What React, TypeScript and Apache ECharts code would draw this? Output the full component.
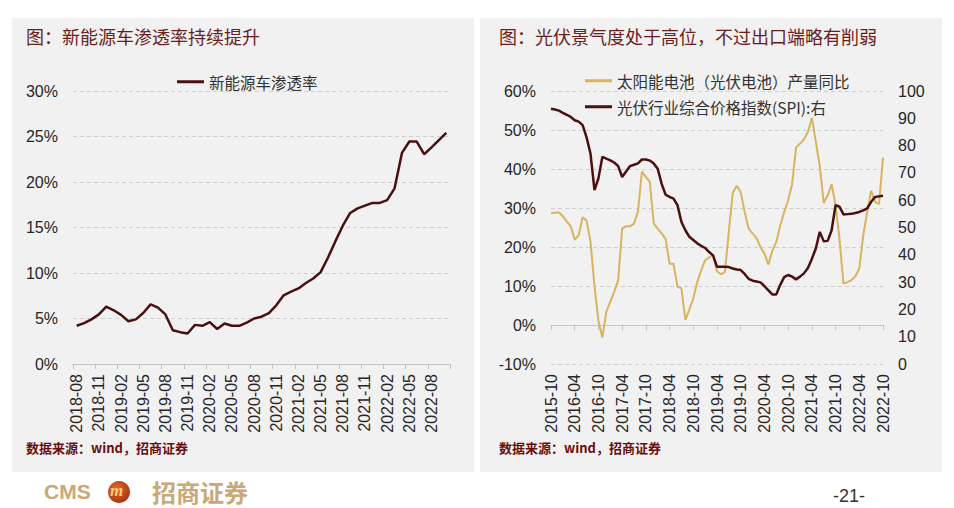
import React, { useEffect, useRef } from "react";
import * as echarts from "echarts";

// ---------- data ----------
function monthRange(year: number, month: number, count: number): string[] {
  const out: string[] = [];
  let y = year;
  let m = month;
  for (let i = 0; i < count; i++) {
    out.push(`${y}-${m < 10 ? "0" + m : m}`);
    m++;
    if (m > 12) {
      m = 1;
      y++;
    }
  }
  return out;
}

const nevMonths = monthRange(2018, 8, 51); // 2018-08 .. 2022-10
const nevPenetration = [
  4.2, 4.5, 4.9, 5.45, 6.3, 5.9, 5.4, 4.7, 4.9, 5.6,
  6.55, 6.2, 5.45, 3.7, 3.5, 3.35, 4.3, 4.2, 4.6, 3.85,
  4.45, 4.2, 4.2, 4.55, 5.0, 5.2, 5.6, 6.45, 7.55, 7.95,
  8.3, 8.9, 9.4, 10.1, 11.7, 13.5, 15.2, 16.6, 17.1, 17.4,
  17.7, 17.7, 18.0, 19.3, 23.2, 24.45, 24.45, 23.05, 23.8, 24.6, 25.4,
];

const pvMonths = monthRange(2015, 10, 85); // 2015-10 .. 2022-10
const solarCellYoY = [
  28.7, 28.8, 28.9, 27.9, 26.5, 25.3, 21.9, 23.0, 27.6, 26.8,
  21.3, 10.0, 1.0, -3.2, 3.4, 6.0, 8.5, 11.5, 24.7, 25.3,
  25.3, 26.0, 29.0, 39.3, 38.0, 36.7, 26.0, 24.7, 23.5, 22.1,
  15.7, 15.7, 9.8, 9.4, 1.3, 4.0, 6.8, 11.0, 14.0, 16.6,
  17.3, 18.0, 13.8, 13.0, 13.6, 24.0, 34.0, 35.7, 34.0, 29.0,
  24.7, 23.5, 22.3, 20.0, 18.3, 15.5, 19.0, 21.3, 25.5, 29.0,
  32.0, 36.1, 45.5, 46.5, 47.6, 49.5, 53.1, 47.0, 40.8, 31.3,
  33.2, 36.1, 30.6, 22.0, 10.6, 11.0, 11.5, 12.5, 14.5, 23.0,
  29.0, 34.4, 31.5, 31.0, 42.9,
];
const spiIndex = [
  93.5, 93.2, 92.8, 92.0, 91.3, 90.5, 89.3, 88.8, 87.5, 83.0,
  77.0, 63.7, 68.0, 75.9, 75.2, 74.6, 73.8, 72.5, 68.5, 70.5,
  72.5, 73.0, 73.5, 74.9, 74.9, 74.5, 73.4, 71.5, 66.0, 62.0,
  61.2, 60.6, 58.2, 52.0, 49.0, 46.6, 45.4, 44.2, 43.3, 42.5,
  41.0, 39.8, 35.6, 35.6, 35.6, 35.5, 35.0, 34.6, 34.4, 33.0,
  31.2, 30.5, 30.2, 29.9, 28.5, 27.0, 25.5, 25.5, 29.0, 31.8,
  32.6, 32.0, 31.0, 32.0, 33.2, 35.2, 38.5, 42.3, 48.4, 45.0,
  45.1, 49.0, 58.2, 57.6, 54.8, 54.9, 55.0, 55.3, 55.7, 56.3,
  57.0, 59.4, 61.2, 61.4, 61.6,
];

const nevName = "新能源车渗透率";
const cellName = "太阳能电池（光伏电池）产量同比";
const spiName = "光伏行业综合价格指数(SPI):右";
const leftTitle = "图：新能源车渗透率持续提升";
const rightTitle = "图：光伏景气度处于高位，不过出口端略有削弱";
const sourceText = "数据来源：wind，招商证券";

// ---------- styles ----------
const LABEL_FONT = "Liberation Sans, Arial, sans-serif";
const CJK_FONT = "Noto Sans CJK SC, sans-serif";
const LABEL_COLOR = "#262626";
const TITLE_COLOR = "#6a1d1d";
const DARK_LINE = "#4a1010";
const GOLD_LINE = "#d6b462";
const GRID_LINE = "#cfcfcf";

export default function App() {
  const ref = useRef<HTMLDivElement>(null);

  useEffect(() => {
    if (!ref.current) return;
    const chart = echarts.init(ref.current, null, { renderer: "svg" });

    const axisLabelBase = {
      fontFamily: LABEL_FONT,
      fontSize: 16,
      color: LABEL_COLOR,
    };

    const option: any = {
      animation: false,
      backgroundColor: "#ffffff",
      graphic: [
        { type: "rect", z: -10, shape: { x: 12, y: 18, width: 462, height: 454 }, style: { fill: "#f1f1f1" } },
        { type: "rect", z: -10, shape: { x: 480, y: 18, width: 462, height: 454 }, style: { fill: "#f1f1f1" } },
        {
          type: "text", left: 26, top: 27,
          style: { text: leftTitle, fontSize: 18, fontFamily: CJK_FONT, fill: TITLE_COLOR },
        },
        {
          type: "text", left: 499, top: 27,
          style: { text: rightTitle, fontSize: 18, fontFamily: CJK_FONT, fill: TITLE_COLOR },
        },
        {
          type: "text", left: 26, top: 441,
          style: { text: sourceText, fontSize: 13, fontWeight: "bold", fontFamily: CJK_FONT, fill: "#6b0d0d" },
        },
        {
          type: "text", left: 499, top: 441,
          style: { text: sourceText, fontSize: 13, fontWeight: "bold", fontFamily: CJK_FONT, fill: "#6b0d0d" },
        },
        // footer logo
        {
          type: "text", left: 44, top: 481,
          style: { text: "CMS", fontSize: 21, fontWeight: "bold", fontFamily: LABEL_FONT, fill: "#c9a878" },
        },
        {
          type: "circle", shape: { cx: 119, cy: 492, r: 11 },
          style: {
            fill: new echarts.graphic.RadialGradient(0.4, 0.35, 0.7, [
              { offset: 0, color: "#e0692e" },
              { offset: 1, color: "#a8320f" },
            ]),
          },
        },
        {
          type: "text", left: 110, top: 482,
          style: { text: "m", fontSize: 17, fontStyle: "italic", fontWeight: "bold", fontFamily: "Liberation Serif, serif", fill: "#f3cf74" },
        },
        {
          type: "text", left: 152, top: 479,
          style: { text: "招商证券", fontSize: 24, fontWeight: "bold", fontFamily: CJK_FONT, fill: "#c9a878" },
        },
        {
          type: "text", left: 833, top: 487,
          style: { text: "-21-", fontSize: 18, fontFamily: LABEL_FONT, fill: "#333333" },
        },
      ],
      legend: [
        {
          data: [nevName], left: 172, top: 69, icon: "rect", itemWidth: 27, itemHeight: 3,
          textStyle: { fontFamily: CJK_FONT, fontSize: 15.5, color: "#333" },
        },
        {
          data: [cellName], left: 580, top: 68, icon: "rect", itemWidth: 27, itemHeight: 3,
          textStyle: { fontFamily: CJK_FONT, fontSize: 15.5, color: "#333" },
        },
        {
          data: [spiName], left: 580, top: 94, icon: "rect", itemWidth: 27, itemHeight: 3,
          textStyle: { fontFamily: CJK_FONT, fontSize: 15.5, color: "#333" },
        },
      ],
      grid: [
        { left: 73, top: 91, width: 377, height: 273 },
        { left: 551, top: 91, width: 332, height: 273 },
      ],
      xAxis: [
        {
          gridIndex: 0, type: "category", data: nevMonths, boundaryGap: true,
          axisLine: { show: true, lineStyle: { color: "#c4c4c4", width: 1 } },
          axisTick: { show: true, interval: 2, length: 5, lineStyle: { color: "#c4c4c4" } },
          axisLabel: { ...axisLabelBase, interval: 2, rotate: 90, margin: 10 },
          splitLine: { show: false },
        },
        {
          gridIndex: 1, type: "category", data: pvMonths, boundaryGap: false, position: "bottom",
          axisLine: { show: false, onZero: false },
          axisTick: { show: false },
          axisLabel: { ...axisLabelBase, interval: 5, rotate: 90, margin: 10 },
          splitLine: { show: false },
        },
        {
          gridIndex: 1, type: "category", data: pvMonths, boundaryGap: false, position: "bottom",
          axisLine: { show: true, onZero: true, onZeroAxisIndex: 1, lineStyle: { color: "#c4c4c4", width: 1 } },
          axisTick: { show: true, interval: 5, length: 5, lineStyle: { color: "#c4c4c4" } },
          axisLabel: { show: false },
          splitLine: { show: false },
        },
      ],
      yAxis: [
        {
          gridIndex: 0, type: "value", min: 0, max: 30, interval: 5,
          axisLine: { show: false }, axisTick: { show: false },
          axisLabel: { ...axisLabelBase, margin: 15, formatter: "{value}%" },
          splitLine: { show: true, lineStyle: { color: GRID_LINE, type: [4, 3], width: 1 } },
        },
        {
          gridIndex: 1, type: "value", min: -10, max: 60, interval: 10,
          axisLine: { show: false }, axisTick: { show: false },
          axisLabel: { ...axisLabelBase, margin: 15, formatter: "{value}%" },
          splitLine: { show: true, lineStyle: { color: GRID_LINE, type: [4, 3], width: 1 } },
        },
        {
          gridIndex: 1, type: "value", min: 0, max: 100, interval: 10, position: "right",
          axisLine: { show: false }, axisTick: { show: false },
          axisLabel: { ...axisLabelBase, margin: 15 },
          splitLine: { show: false },
        },
      ],
      series: [
        {
          name: nevName, type: "line", xAxisIndex: 0, yAxisIndex: 0, data: nevPenetration,
          symbol: "none", lineStyle: { color: DARK_LINE, width: 2.5 }, itemStyle: { color: DARK_LINE },
        },
        {
          name: cellName, type: "line", xAxisIndex: 1, yAxisIndex: 1, data: solarCellYoY,
          symbol: "none", lineStyle: { color: GOLD_LINE, width: 2 }, itemStyle: { color: GOLD_LINE },
        },
        {
          name: spiName, type: "line", xAxisIndex: 1, yAxisIndex: 2, data: spiIndex,
          symbol: "none", lineStyle: { color: DARK_LINE, width: 2.5 }, itemStyle: { color: DARK_LINE },
        },
      ],
    };

    chart.setOption(option);
    return () => chart.dispose();
  }, []);

  return (
    <div
      ref={ref}
      style={{ position: "fixed", left: 0, top: 0, width: 954, height: 508, background: "#fff" }}
    />
  );
}
